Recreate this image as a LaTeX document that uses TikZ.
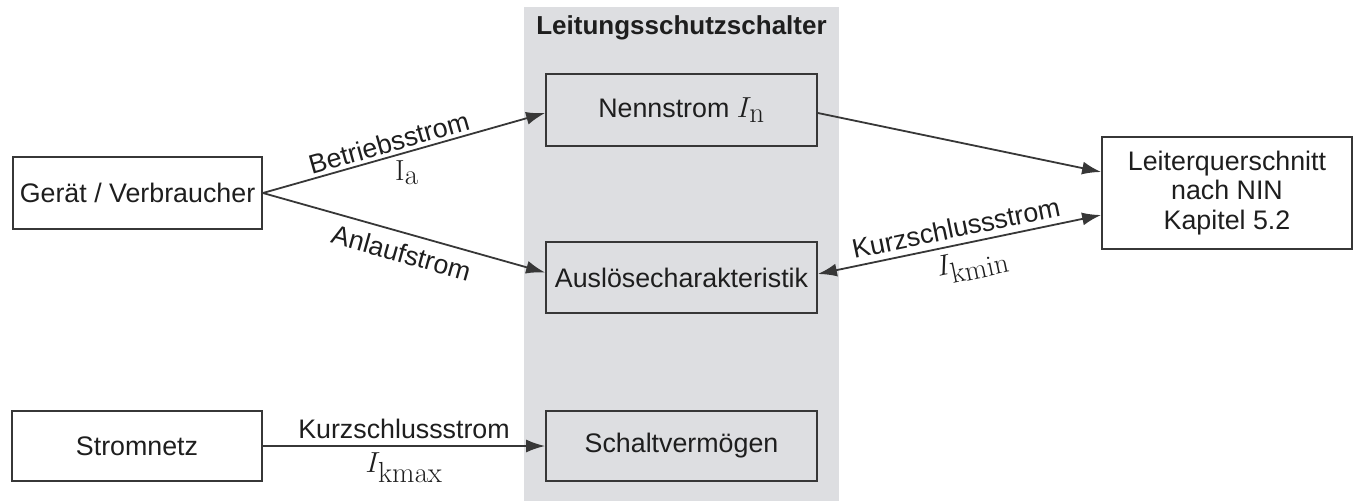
\RequirePackage{fix-cm}
\documentclass[tikz,border=0pt]{standalone}
\usepackage[no-math]{fontspec}
\setmainfont{Liberation Sans}
\usetikzlibrary{arrows.meta}
\DeclareMathSizes{26.8}{29}{21}{15}
\definecolor{feld}{RGB}{221,222,225}
\definecolor{linie}{RGB}{55,55,55}
\definecolor{schrift}{RGB}{30,30,30}
\def\punkt#1#2{({#1},{-(#2)})}
\def\strom#1#2{$#1_{\textstyle\mathrm{#2}}$}
\tikzset{
	kasten/.style={draw=linie,line width=1.8pt,inner sep=0pt,text=schrift,minimum height=72pt},
	pfeil/.style={draw=linie,line width=1.8pt},
	marke/.style={text=schrift}
}
\begin{document}
\begin{tikzpicture}[x=1pt,y=1pt,>={Latex[length=19pt,width=13pt]},font=\fontsize{26.8}{30}\selectfont]
\useasboundingbox \punkt{0}{0} rectangle \punkt{1362}{501};
\fill[color=feld] \punkt{524}{7} rectangle \punkt{839}{501};
\node[marke,font=\fontsize{26}{30}\selectfont\bfseries] (titel) at \punkt{681.5}{28} {Leitungsschutzschalter};
% Kaesten
\node[kasten,minimum width=249pt] (geraet) at \punkt{137.5}{193} {Gerät / Verbraucher};
\node[kasten,minimum width=250pt,minimum height=70pt] (netz) at \punkt{137}{446} {Stromnetz};
\node[kasten,minimum width=271pt] (nenn) at \punkt{681.5}{110} {Nennstrom \strom{I}{n}};
\node[kasten,minimum width=271pt,minimum height=71pt] (ausl) at \punkt{681.5}{277.5} {Auslösecharakteristik};
\node[kasten,minimum width=271pt,minimum height=70pt] (schalt) at \punkt{681.5}{446} {Schaltvermögen};
\node[kasten,minimum width=250pt,minimum height=112pt,align=center,
	font=\fontsize{26.8}{29.5}\selectfont] (leiter) at \punkt{1227}{193}
	{Leiterquerschnitt\\nach NIN\\Kapitel 5.2};
% Pfeile
\draw[pfeil,->] (geraet.east) -- ([yshift=-3pt]nenn.west)
	node[marke,pos=0.46,above,sloped] (betrieb) {Betriebsstrom}
	node[marke,pos=0.51,below=4pt] (ia) {\strom{\mathrm{I}}{a}};
\draw[pfeil,->] (geraet.east) -- ([yshift=5pt]ausl.west)
	node[marke,pos=0.51,below=6pt,sloped] (anlauf) {Anlaufstrom};
\draw[pfeil,->] ([yshift=-3pt]nenn.east) -- ([yshift=21pt]leiter.west);
\draw[pfeil,<->] ([yshift=3.5pt]ausl.east) -- ([yshift=-22pt]leiter.west)
	node[marke,pos=0.5,above=3pt,sloped] (kmin) {Kurzschlussstrom}
	node[marke,pos=0.53,below=3pt,sloped] (ikmin) {\strom{I}{kmin}};
\draw[pfeil,->] (netz.east) -- (schalt.west)
	node[marke,midway,above=3.5pt] (kmax) {Kurzschlussstrom}
	node[marke,midway,below=2pt] (ikmax) {\strom{I}{kmax}};
\end{tikzpicture}
\end{document}
